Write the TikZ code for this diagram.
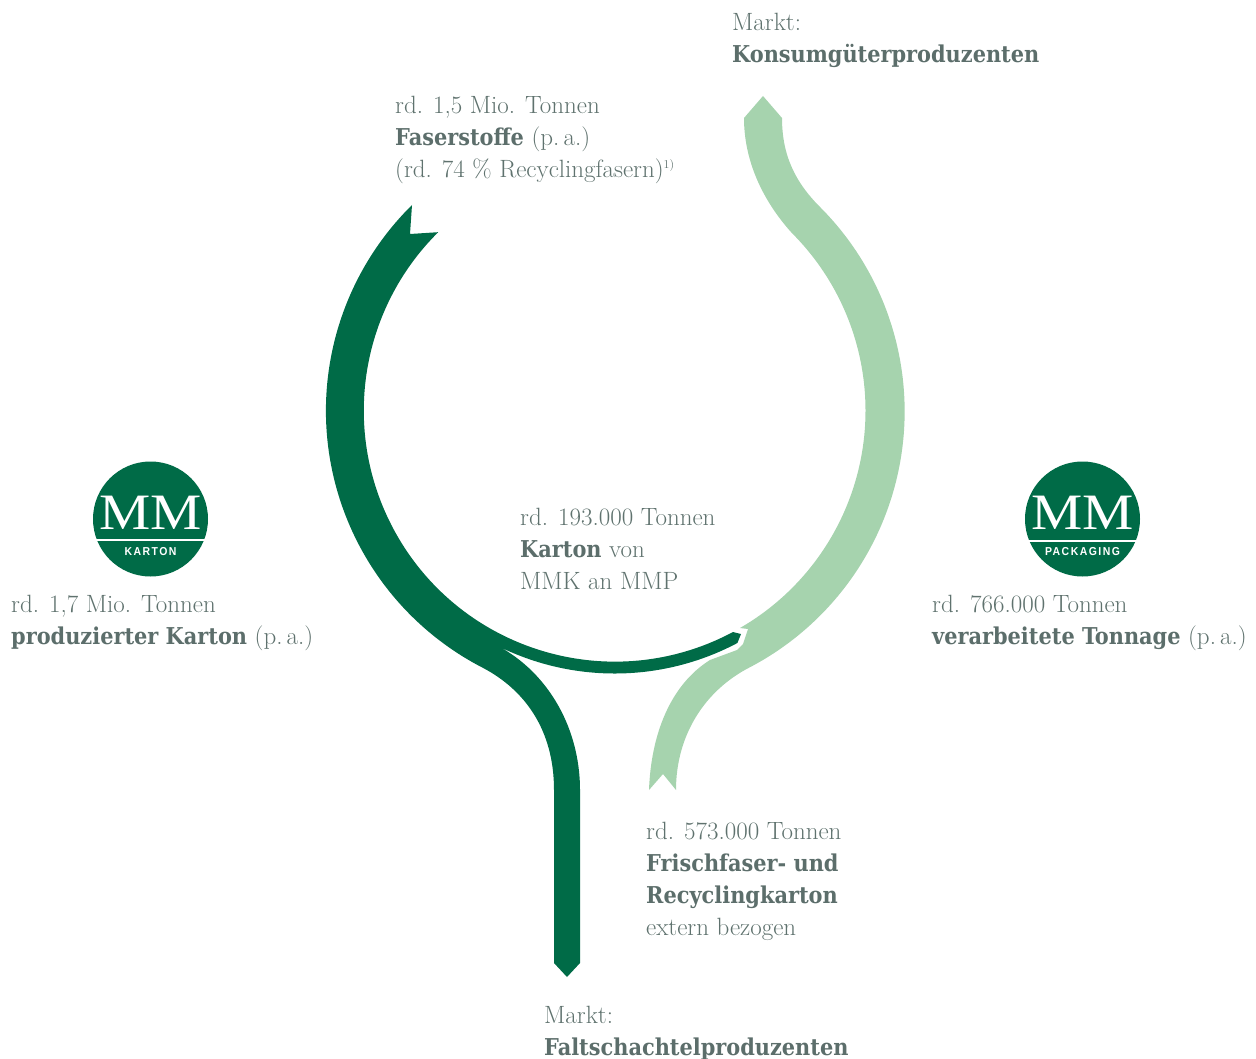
\documentclass[tikz,border=0pt]{standalone}
\usepackage{fontspec}
\newfontfamily\slab{DejaVu Serif Condensed}
\newfontfamily\logofont[LetterSpace=14]{Liberation Sans}
\newfontfamily\logoserif{Liberation Serif}
\definecolor{mmdark}{HTML}{006B47}
\definecolor{mmlight}{HTML}{A6D3AE}
\definecolor{txtgray}{HTML}{5F726E}
\definecolor{txtdark}{HTML}{5C6E6B}
\newcommand{\hl}[1]{{\slab\bfseries\color{txtdark}\fontsize{23.2}{32}\selectfont #1}}
\newcommand{\mmsmall}[1]{\scalebox{0.91}[1]{#1}}
\tikzset{
lbl/.style={anchor=north west, inner sep=0pt, align=left, text=txtgray, font=\fontsize{25}{32}\selectfont}, % all the text blocks
mmbadge/.style={circle, fill=mmdark, minimum size=115pt, inner sep=0pt}, % round logo
mmletters/.style={text=white, inner sep=0pt, font=\logoserif\fontsize{51}{51}\selectfont},
mmsub/.style={text=white, inner sep=0pt, font=\logofont\bfseries\fontsize{11.5}{12}\selectfont},
}
\begin{document}
\begin{tikzpicture}[x=1pt,y=1pt]
        \useasboundingbox (0,0) rectangle (1256,-1059);
        % light ribbon
        \fill[mmlight] (763,-96) -- (782,-118) .. controls (782,-155) and (795,-182) .. (820,-207)
                arc[start angle=45, end angle=-62.2, radius=289]
                .. controls (705,-690) and (676,-735) .. (676,-790)
                -- (663,-774) -- (649,-790)
                .. controls (651,-735) and (670,-685) .. (710,-660)
                -- (737,-650) -- (743,-644) -- (748,-629) -- (740,-628)
                arc[start angle=-60, end angle=45, radius=251]
                .. controls (762,-200) and (744,-160) .. (744,-118) -- cycle;
        % dark ribbon
        \fill[mmdark] (412,-205) arc[start angle=134.6, end angle=242.8, radius=289]
                .. controls (525,-690) and (554,-730) .. (554,-790)
                -- (554,-963) -- (567,-977) -- (580,-963) -- (580,-790)
                .. controls (580,-725) and (545,-668) .. (492,-643)
                arc[start angle=242.07, end angle=297.93, radius=262]
                -- (741,-634) -- (733,-632)
                arc[start angle=298.1, end angle=134.7, radius=251]
                -- (410,-234) -- cycle;
        % left logo
        \node[mmbadge] (karton) at (150.5,-519) {};
        \draw[white, line width=1.3pt] (93.5,-540) -- (207.5,-540);
        \node[mmletters] (kartonmm) at (150.5,-513) {\scalebox{1.13}[1]{MM}};
        \node[mmsub] (kartonsub) at (150.5,-552) {\mmsmall{KARTON}};
        % right logo
        \node[mmbadge] (packaging) at (1082.5,-519) {};
        \draw[white, line width=1.3pt] (1025.5,-541) -- (1139.5,-541);
        \node[mmletters] (packagingmm) at (1082.5,-513) {\scalebox{1.13}[1]{MM}};
        \node[mmsub] (packagingsub) at (1082.5,-552) {\mmsmall{PACKAGING}};
        % labels
        \node[lbl] (markttop) at (732,-13) {Markt:\\\hl{Konsumgüterproduzenten}};
        \node[lbl] (faser) at (395,-96) {rd. 1,5 Mio. Tonnen\\\hl{Faserstoffe} (p.\,a.)\\(rd. 74 \% Recyclingfasern)\raisebox{9pt}{\fontsize{12}{12}\selectfont 1)}};
        \node[lbl] (mmk) at (520,-508) {rd. 193.000 Tonnen\\\hl{Karton} von\\MMK an MMP};
        \node[lbl] (prod) at (11,-595) {rd. 1,7 Mio. Tonnen\\\hl{produzierter Karton} (p.\,a.)};
        \node[lbl] (tonnage) at (932,-595) {rd. 766.000 Tonnen\\\hl{verarbeitete Tonnage} (p.\,a.)};
        \node[lbl] (extern) at (646,-822) {rd. 573.000 Tonnen\\\hl{Frischfaser- und}\\\hl{Recyclingkarton}\\extern bezogen};
        \node[lbl] (marktbot) at (544,-1006) {Markt:\\\hl{Faltschachtelproduzenten}};
\end{tikzpicture}
\end{document}
